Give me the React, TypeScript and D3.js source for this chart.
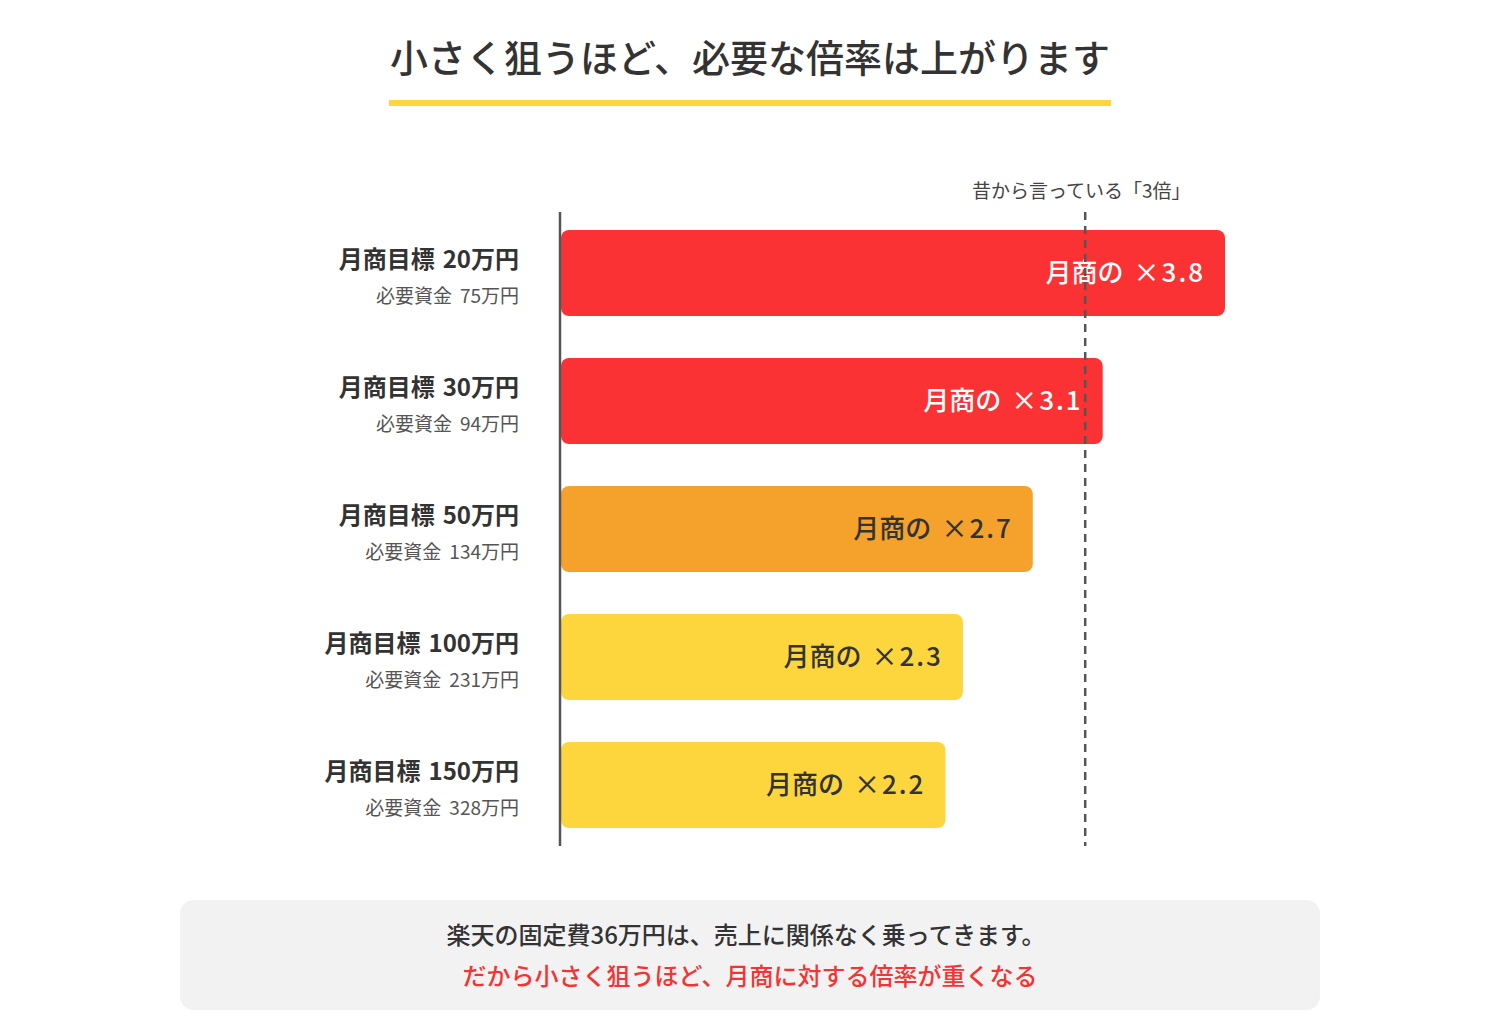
import React from "react";
import * as d3 from "d3";

const targets = ["20万円", "30万円", "50万円", "100万円", "150万円"];
const funds = ["75万円", "94万円", "134万円", "231万円", "328万円"];
const multipliers = [3.8, 3.1, 2.7, 2.3, 2.2];
const barColors = ["#FB3233", "#FB3233", "#F4A22B", "#FDD53C", "#FDD53C"];
const labelColors = ["#FFFFFF", "#FFFFFF", "#333333", "#333333", "#333333"];
const referenceValue = 3;
const referenceLabel = "昔から言っている「3倍」";
const title = "小さく狙うほど、必要な倍率は上がります";
const note1 = "楽天の固定費36万円は、売上に関係なく乗ってきます。";
const note2 = "だから小さく狙うほど、月商に対する倍率が重くなる";

const W = 1500;
const H = 1030;
const FONT = "'Noto Sans CJK JP', 'Noto Sans', sans-serif";

export default function App() {
  const x = d3.scaleLinear().domain([0, 3.8]).range([561, 1225]);
  const y = d3
    .scaleBand<string>()
    .domain(targets)
    .range([209, 849])
    .paddingInner(0.328)
    .paddingOuter(0.164);

  const refX = x(referenceValue);

  return (
    <svg
      width={W}
      height={H}
      style={{ position: "absolute", left: 0, top: 0, background: "#fff" }}
      fontFamily={FONT}
    >
      <rect width={W} height={H} fill="#fff" />
      {/* Title */}
      <text x={750} y={72} textAnchor="middle" fontSize={38} fill="#333" fontWeight={500}>
        {title}
      </text>
      <rect x={389} y={100} width={722} height={6} fill="#FDD53C" />

      {/* Bars */}
      {targets.map((t, i) => {
        const by = y(t)!;
        const bh = y.bandwidth();
        const bx = x(0);
        const bw = x(multipliers[i]) - bx;
        return (
          <g key={t}>
            <rect x={bx} y={by} width={bw} height={bh} rx={8} ry={8} fill={barColors[i]} />
            <text
              x={x(multipliers[i]) - 20}
              y={by + bh / 2 + 9}
              textAnchor="end"
              fontSize={26}
              fontWeight={500}
              fill={labelColors[i]}
            >
              月商の
              <tspan dx={10} letterSpacing={2}>
                ×{multipliers[i].toFixed(1)}
              </tspan>
            </text>
            <text x={519} y={by + 38} textAnchor="end" fontSize={24} fontWeight={700} fill="#333">
              月商目標<tspan dx={8}>{t}</tspan>
            </text>
            <text x={519} y={by + 73} textAnchor="end" fontSize={19} fill="#555">
              必要資金<tspan dx={8}>{funds[i]}</tspan>
            </text>
          </g>
        );
      })}

      {/* Axis line */}
      <line x1={560} x2={560} y1={212} y2={846} stroke="#555" strokeWidth={2.5} />

      {/* Reference dashed line */}
      <line
        x1={refX}
        x2={refX}
        y1={212}
        y2={846}
        stroke="#555"
        strokeWidth={2.5}
        strokeDasharray="8,6"
      />
      <text x={refX - 4} y={198} textAnchor="middle" fontSize={19} fill="#444">
        {referenceLabel}
      </text>

      {/* Bottom note */}
      <rect x={180} y={900} width={1140} height={110} rx={14} ry={14} fill="#F2F2F2" />
      <text x={746} y={944} textAnchor="middle" fontSize={24} fontWeight={500} fill="#333">
        {note1}
      </text>
      <text x={750} y={985} textAnchor="middle" fontSize={24} fontWeight={500} fill="#F53333">
        {note2}
      </text>
    </svg>
  );
}
